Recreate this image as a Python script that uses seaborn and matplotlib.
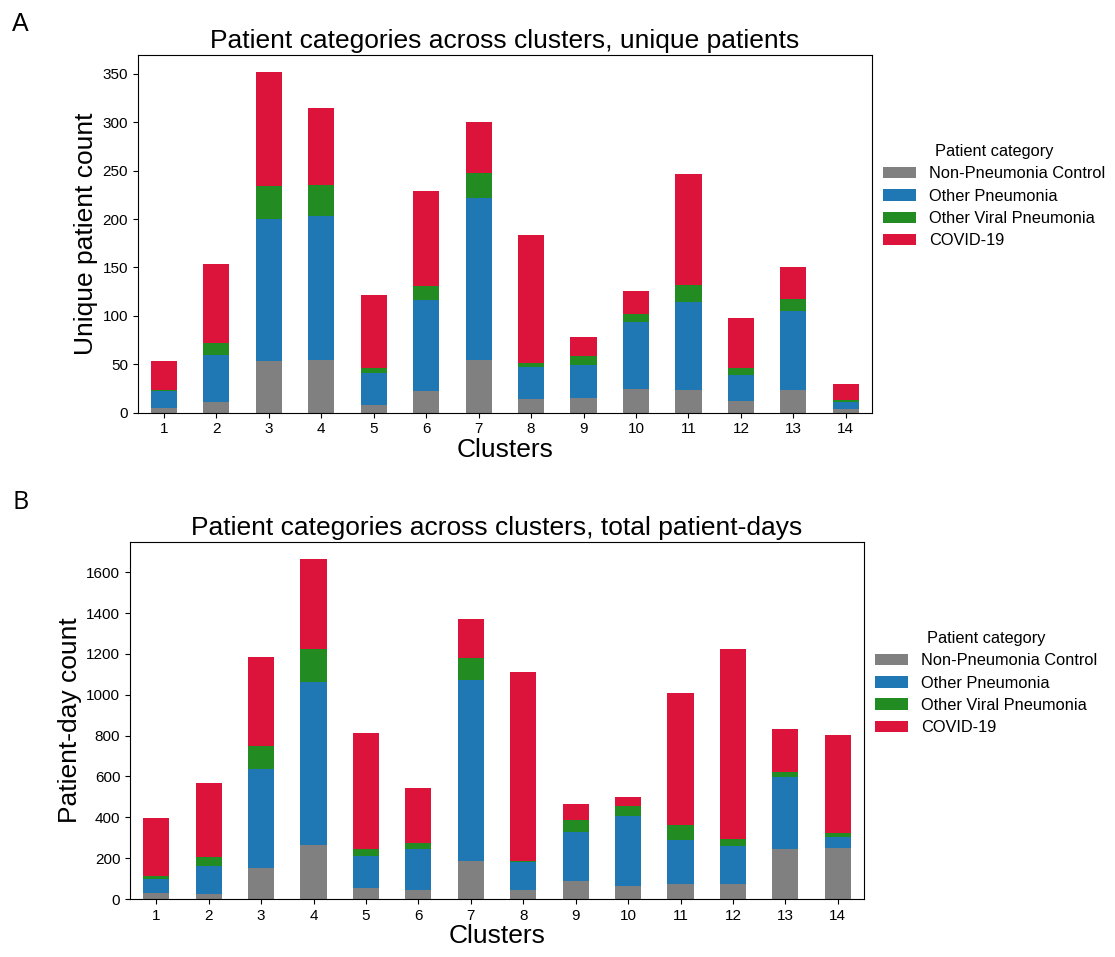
import numpy as np
import pandas as pd
import matplotlib
matplotlib.use("Agg")
import matplotlib.pyplot as plt
import seaborn as sns
from matplotlib.patches import Patch

clusters = [str(i) for i in range(1, 15)]
categories = ["Non-Pneumonia Control", "Other Pneumonia", "Other Viral Pneumonia", "COVID-19"]
colors = ["#808080", "#1f77b4", "#228b22", "#dc143c"]

# Panel A: unique patients
a_control = [5, 11, 53, 54, 8, 22, 54, 14, 15, 24, 23, 12, 23, 4]
a_other = [17, 49, 147, 149, 33, 94, 168, 33, 34, 70, 91, 27, 82, 7]
a_viral = [1, 12, 34, 32, 5, 15, 26, 4, 10, 8, 18, 7, 12, 2]
a_covid = [30, 82, 118, 80, 76, 98, 52, 133, 19, 24, 115, 52, 33, 17]

# Panel B: total patient-days
b_control = [31, 26, 153, 266, 54, 44, 186, 44, 88, 64, 73, 73, 245, 250]
b_other = [67, 137, 484, 798, 158, 201, 887, 139, 240, 342, 216, 187, 351, 52]
b_viral = [16, 43, 112, 160, 31, 28, 109, 3, 59, 49, 73, 32, 26, 21]
b_covid = [283, 362, 436, 441, 570, 271, 189, 926, 78, 45, 647, 932, 211, 481]

plt.rcParams['font.family'] = ['Liberation Sans', 'DejaVu Sans']

fig = plt.figure(figsize=(11.15, 9.57), dpi=100)
ax1 = fig.add_axes([0.1235, 0.5688, 0.6586, 0.3738])
ax2 = fig.add_axes([0.1166, 0.0606, 0.6583, 0.3730])


def stacked(ax, series, title, ylabel):
    df = pd.DataFrame({"cluster": clusters})
    for name, vals in zip(categories, series):
        df[name] = vals
    cum = df[categories].cumsum(axis=1)
    # draw from top layer down so lower layers overlay
    for name, col in reversed(list(zip(categories, colors))):
        sns.barplot(x=df["cluster"], y=cum[name], color=col, width=0.5,
                    saturation=1, ax=ax, linewidth=0, order=clusters)
    total = cum[categories[-1]].max()
    ax.set_ylim(0, total * 1.05)
    ax.set_xlim(-0.5, len(clusters) - 0.5)
    ax.set_title(title, fontsize=19, pad=5)
    ax.set_xlabel("Clusters", fontsize=19, labelpad=1)
    ax.set_ylabel(ylabel, fontsize=19, labelpad=3)
    ax.tick_params(labelsize=11)
    handles = [Patch(facecolor=c, edgecolor='none', label=n) for n, c in zip(categories, colors)]
    ax.legend(handles=handles, title="Patient category", loc="center left",
              bbox_to_anchor=(0.995, 0.605), frameon=False, fontsize=11.8,
              title_fontsize=11.8, handlelength=2.0, handletextpad=0.8,
              labelspacing=0.45)
    for s in ax.spines.values():
        s.set_visible(True)


stacked(ax1, [a_control, a_other, a_viral, a_covid],
        "Patient categories across clusters, unique patients", "Unique patient count")
stacked(ax2, [b_control, b_other, b_viral, b_covid],
        "Patient categories across clusters, total patient-days", "Patient-day count")

fig.text(0.011, 0.968, "A", fontsize=18, family=['Liberation Sans'])
fig.text(0.011, 0.468, "B", fontsize=18, family=['Open Sans'])

fig.savefig("out.png", dpi=100)
